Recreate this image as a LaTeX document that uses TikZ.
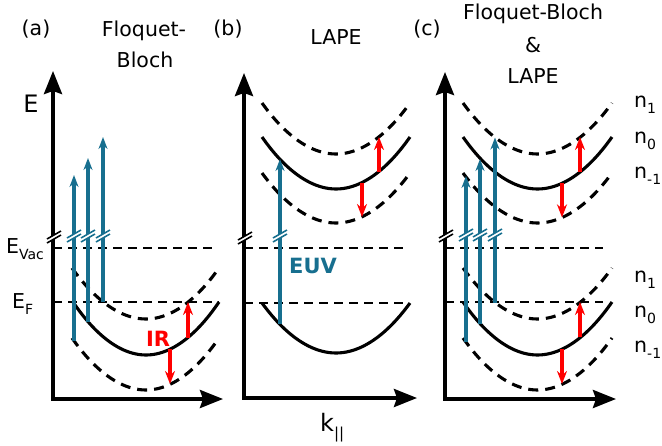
\documentclass[tikz,border=0pt]{standalone}
\usepackage{fontspec}
\setmainfont{DejaVu Sans}
\usetikzlibrary{arrows.meta}
\definecolor{euvblue}{RGB}{23,111,143}
\newcommand\lsub[1]{\raisebox{-0.3em}{\fontsize{14pt}{14pt}\selectfont #1}}
\newcommand\brkmark[3]{%
  \begin{scope}[shift={(#1,#2)}]
    \draw[white,line width=3pt] (-4,2.3) -- (4,-2.3);
    \draw[#3,line width=1.6pt] (-7,6) -- (7,-2) (-7,2) -- (7,-6);
  \end{scope}}
\begin{document}
\begin{tikzpicture}[x=1pt,y=-1pt,
  axis/.style={line width=3.6pt,-{Stealth[length=23pt,width=18pt,inset=3pt]}},
  band/.style={line width=3.1pt},
  dband/.style={band,dash pattern=on 10pt off 7pt},
  level/.style={line width=1.7pt,dash pattern=on 9pt off 6pt},
  uv/.style={euvblue,line width=3.1pt,-{Stealth[length=12pt,width=9pt]}},
  ir/.style={red,line width=3.4pt,-{Stealth[length=13pt,width=10pt]}},
  txt/.style={font=\fontsize{20.5pt}{24pt}\selectfont,inner sep=0pt,anchor=base},
  big/.style={font=\fontsize{24pt}{28pt}\selectfont,inner sep=0pt,anchor=base}]
\useasboundingbox (0,0) rectangle (662,445);

% ---------------- panel (a)
\draw[level] (53,248) -- (215,248);
\draw[level] (53,302) -- (219,302);
\draw[dband] (72,268) parabola bend (146,319) (219,268);
\draw[band]  (73,302) parabola bend (146,355) (219,302);
\draw[dband] (72,338) parabola bend (146,390) (219,338);
\coordinate (Oa) at (53,399);
\coordinate (Ya) at (53,71);
\coordinate (Xa) at (223,399);
\draw[axis] ([yshift=-1.8pt]Oa) -- (Ya);
\draw[axis] ([xshift=-1.8pt]Oa) -- (Xa);
\coordinate (a1s) at (74,341);   \coordinate (a1e) at (74,175);
\coordinate (a2s) at (88,322);   \coordinate (a2e) at (88,158);
\coordinate (a3s) at (103,302);  \coordinate (a3e) at (103,137);
\draw[uv] (a1s) -- (a1e);
\draw[uv] (a2s) -- (a2e);
\draw[uv] (a3s) -- (a3e);
\coordinate (ar1s) at (188,337.5); \coordinate (ar1e) at (188,302);
\coordinate (ar2s) at (170,349);   \coordinate (ar2e) at (170,384);
\draw[ir] (ar1s) -- (ar1e);
\draw[ir] (ar2s) -- (ar2e);
\brkmark{54}{237}{black}
\brkmark{74}{236}{euvblue}
\brkmark{88}{236}{euvblue}
\brkmark{103}{236}{euvblue}

% ---------------- panel (b)
\draw[level] (244,248) -- (403,248);
\draw[level] (244,303) -- (403,303);
\draw[band]  (262,303) parabola bend (336,353) (410,303);
\draw[dband] (262,103) parabola bend (336,154) (410,103);
\draw[band]  (262,137) parabola bend (336,189) (410,137);
\draw[dband] (262,173) parabola bend (336,223) (410,173);
\coordinate (Ob) at (244,398);
\coordinate (Yb) at (244,73);
\coordinate (Xb) at (417,398);
\draw[axis] ([yshift=-1.8pt]Ob) -- (Yb);
\draw[axis] ([xshift=-1.8pt]Ob) -- (Xb);
\coordinate (b1s) at (280,324); \coordinate (b1e) at (280,159);
\draw[uv] (b1s) -- (b1e);
\coordinate (br1s) at (379,171.5); \coordinate (br1e) at (379,137);
\coordinate (br2s) at (362,182.5); \coordinate (br2e) at (362,217);
\draw[ir] (br1s) -- (br1e);
\draw[ir] (br2s) -- (br2e);
\brkmark{245}{238}{black}
\brkmark{280}{236}{euvblue}

% ---------------- panel (c)
\draw[level] (445,248) -- (603,248);
\draw[level] (445,302) -- (603,302);
\draw[dband] (463,103) parabola bend (537.5,154) (612,103);
\draw[band]  (463,137) parabola bend (537.5,189) (612,137);
\draw[dband] (463,173) parabola bend (537.5,223) (612,173);
\draw[dband] (463,268) parabola bend (537.5,319) (612,268);
\draw[band]  (463,302) parabola bend (537.5,355) (612,302);
\draw[dband] (463,338) parabola bend (537.5,390) (612,338);
\coordinate (Oc) at (445,399);
\coordinate (Yc) at (445,72);
\coordinate (Xc) at (616,399);
\draw[axis] ([yshift=-1.8pt]Oc) -- (Yc);
\draw[axis] ([xshift=-1.8pt]Oc) -- (Xc);
\coordinate (c1s) at (466,342);   \coordinate (c1e) at (466,176);
\coordinate (c2s) at (480,324);   \coordinate (c2e) at (480,159);
\coordinate (c3s) at (495,302.5); \coordinate (c3e) at (495,137.5);
\draw[uv] (c1s) -- (c1e);
\draw[uv] (c2s) -- (c2e);
\draw[uv] (c3s) -- (c3e);
\coordinate (cr1s) at (580,171.7); \coordinate (cr1e) at (580,137);
\coordinate (cr2s) at (562,183);   \coordinate (cr2e) at (562,217.4);
\coordinate (cr3s) at (580,337.3); \coordinate (cr3e) at (580,302);
\coordinate (cr4s) at (562,349);   \coordinate (cr4e) at (562,384);
\draw[ir] (cr1s) -- (cr1e);
\draw[ir] (cr2s) -- (cr2e);
\draw[ir] (cr3s) -- (cr3e);
\draw[ir] (cr4s) -- (cr4e);
\brkmark{446}{236}{black}
\brkmark{466}{235}{euvblue}
\brkmark{480}{235}{euvblue}
\brkmark{495}{235}{euvblue}

% ---------------- labels
\node[txt] (la) at (36,35) {(a)};
\node[txt] (ta1) at (144,36) {Floquet-};
\node[txt] (ta2) at (145,67) {Bloch};
\node[txt] (lb) at (228,35) {(b)};
\node[txt] (tb) at (336,44) {LAPE};
\node[txt] (lc) at (427,35) {(c)};
\node[txt] (tc1) at (533,19) {Floquet-Bloch};
\node[txt] (tc2) at (533,52) {\&};
\node[txt] (tc3) at (533,83) {LAPE};
\node[big] (lE) at (31,112) {E};
\node[txt,anchor=base west] (lvac) at (6,253) {E\lsub{Vac}};
\node[txt,anchor=base west] (lef) at (12,308) {E\lsub{F}};
\node[txt,red,font=\fontsize{21pt}{24pt}\selectfont\bfseries] (lir) at (158,346) {IR};
\node[txt,euvblue,font=\fontsize{21pt}{24pt}\selectfont\bfseries] (leuv) at (313,273) {EUV};
\node[big,anchor=base west] (lk) at (320,431) {k\raisebox{-0.3em}{\fontsize{15pt}{15pt}\selectfont ||}};
\node[txt,anchor=base west] (n1u) at (634,107) {n\lsub{1}};
\node[txt,anchor=base west] (n0u) at (634,143) {n\lsub{0}};
\node[txt,anchor=base west] (nmu) at (634,178) {n\lsub{-1}};
\node[txt,anchor=base west] (n1l) at (634,282) {n\lsub{1}};
\node[txt,anchor=base west] (n0l) at (634,317) {n\lsub{0}};
\node[txt,anchor=base west] (nml) at (634,352) {n\lsub{-1}};
\end{tikzpicture}
\end{document}
